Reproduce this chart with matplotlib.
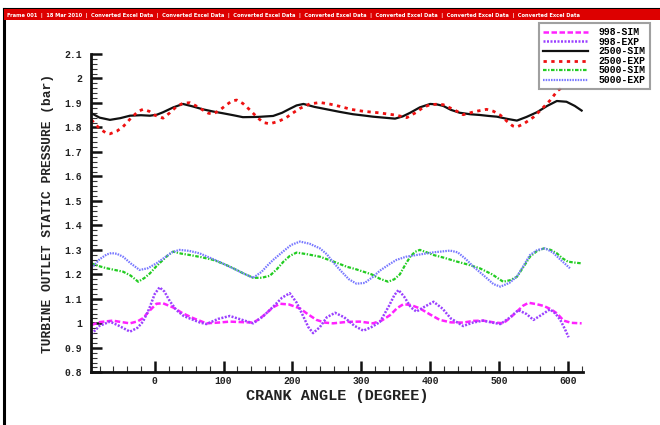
import matplotlib
matplotlib.use("Agg")
import matplotlib.pyplot as plt
from matplotlib.lines import Line2D
from matplotlib.patches import Rectangle
from matplotlib.ticker import MultipleLocator, FuncFormatter

# ---------------- data ----------------
sim998_x = [-92, -80, -61, -48, -36, -25, -17, -8, 2.5, 12, 26.6, 40, 56, 75, 92, 109, 126, 143,
            152, 162, 172, 182, 195, 211, 222, 235, 247, 259, 280, 298, 317, 330, 342, 352, 361,
            372, 385, 400, 414, 430, 448, 463, 477, 492, 506, 516, 526, 535, 543, 555, 565, 575,
            584, 594, 605, 620]
sim998_y = [0.993, 1.005, 1.011, 1.005, 1.000, 1.008, 1.021, 1.050, 1.080, 1.082, 1.065, 1.042,
            1.021, 1.000, 1.003, 1.007, 1.005, 1.003, 1.018, 1.041, 1.066, 1.080, 1.077, 1.061,
            1.038, 1.014, 1.003, 1.000, 1.006, 1.007, 1.000, 1.012, 1.034, 1.062, 1.078, 1.075,
            1.061, 1.036, 1.014, 1.004, 1.003, 1.010, 1.011, 1.004, 1.000, 1.022, 1.048, 1.072,
            1.084, 1.078, 1.071, 1.058, 1.041, 1.011, 1.002, 1.000]

exp998_x = [-92, -80, -65, -52, -36, -25, -17, -8, 0, 7, 14, 22, 31.5, 42, 56, 66, 75, 92, 109,
            126, 143, 158, 172, 185, 196, 206, 216, 223, 230, 240, 250, 262, 275, 290, 303, 315,
            327, 340, 348, 354, 362, 372, 380, 392, 405, 418, 430, 448, 462, 477, 490, 502, 515,
            528, 540, 550, 562, 574, 582, 589, 596, 601]
exp998_y = [0.956, 0.990, 1.007, 0.990, 0.966, 0.982, 1.007, 1.060, 1.120, 1.147, 1.130, 1.090,
            1.054, 1.030, 1.014, 1.003, 0.997, 1.018, 1.030, 1.015, 1.000, 1.030, 1.068, 1.105,
            1.123, 1.085, 1.027, 0.985, 0.960, 0.985, 1.025, 1.043, 1.025, 0.990, 0.970, 0.985,
            1.005, 1.070, 1.115, 1.136, 1.110, 1.065, 1.048, 1.068, 1.088, 1.060, 1.020, 0.989,
            1.003, 1.011, 1.003, 0.997, 1.022, 1.054, 1.038, 1.014, 1.035, 1.057, 1.040, 1.014,
            0.975, 0.943]

sim2500_x = [-92, -80, -65, -50, -36, -20, -7, 3, 12, 27, 41, 55, 70, 85, 99, 114, 128, 150,
             172, 185, 196, 206, 216, 232, 250, 268, 288, 303, 317, 333, 349, 360, 371, 385, 400,
             410, 419, 430, 443, 458, 472, 485, 497, 512, 526, 540, 555, 570, 584, 598, 610, 620]
sim2500_y = [1.858, 1.840, 1.831, 1.838, 1.848, 1.850, 1.848, 1.852, 1.862, 1.882, 1.896, 1.886,
             1.874, 1.865, 1.858, 1.850, 1.842, 1.843, 1.847, 1.860, 1.876, 1.890, 1.896, 1.884,
             1.874, 1.864, 1.854, 1.849, 1.844, 1.840, 1.836, 1.845, 1.860, 1.882, 1.896, 1.894,
             1.888, 1.872, 1.860, 1.854, 1.851, 1.847, 1.844, 1.835, 1.828, 1.843, 1.862, 1.888,
             1.908, 1.905, 1.888, 1.869]

exp2500_x = [-92, -80, -70, -65, -55, -46, -35, -24, -17, -8, 0, 12, 22, 31.5, 41, 51, 60, 70,
             78, 85, 95, 104, 112, 119, 128, 138, 150, 158, 167, 180, 191, 200, 211, 225, 240,
             255, 269, 285, 303, 325, 351, 366, 380, 390, 400, 410, 419, 435, 448, 465, 482, 492,
             502, 512, 520, 526, 536, 550, 562, 574, 585, 595]
exp2500_y = [1.831, 1.795, 1.776, 1.774, 1.785, 1.803, 1.837, 1.866, 1.874, 1.866, 1.850, 1.838,
             1.860, 1.885, 1.899, 1.901, 1.888, 1.871, 1.858, 1.855, 1.872, 1.892, 1.908, 1.912,
             1.898, 1.872, 1.838, 1.820, 1.815, 1.825, 1.840, 1.858, 1.878, 1.896, 1.902, 1.895,
             1.886, 1.874, 1.866, 1.860, 1.850, 1.840, 1.862, 1.882, 1.893, 1.895, 1.893, 1.872,
             1.852, 1.865, 1.874, 1.866, 1.850, 1.824, 1.806, 1.802, 1.815, 1.842, 1.875, 1.910,
             1.950, 1.970]

sim5000_x = [-92, -80, -70, -58, -46, -35, -24, -15, -7, 2, 12, 20, 26.6, 38, 51, 68, 85, 100,
             114, 128, 143, 155, 167, 177, 187, 196, 206, 222, 240, 260, 279, 291, 303, 315, 327,
             339, 348, 356, 363, 371, 378, 385, 395, 405, 420, 439, 455, 472, 490, 506, 516, 526,
             535, 545, 555, 565, 575, 584, 592, 600, 610, 620]
sim5000_y = [1.245, 1.233, 1.225, 1.218, 1.211, 1.195, 1.170, 1.185, 1.204, 1.232, 1.259, 1.280,
             1.293, 1.285, 1.279, 1.270, 1.259, 1.243, 1.225, 1.205, 1.186, 1.186, 1.194, 1.220,
             1.252, 1.275, 1.289, 1.282, 1.272, 1.252, 1.231, 1.222, 1.211, 1.200, 1.182, 1.170,
             1.180, 1.200, 1.235, 1.272, 1.292, 1.300, 1.290, 1.279, 1.268, 1.252, 1.240, 1.225,
             1.200, 1.170, 1.176, 1.190, 1.228, 1.272, 1.295, 1.306, 1.300, 1.286, 1.266, 1.252,
             1.248, 1.245]

exp5000_x = [-92, -80, -70, -63, -55, -46, -35, -22, -10, 2.5, 15, 25, 36, 50, 65, 85, 109, 128,
             143, 155, 165, 172, 185, 198, 211, 225, 240, 250, 259, 270, 282, 293, 305, 317, 327,
             340, 351, 365, 380, 405, 429, 440, 452, 463, 480, 492, 502, 515, 526, 535, 545, 556,
             567, 578, 590, 603]
exp5000_y = [1.225, 1.262, 1.281, 1.287, 1.284, 1.272, 1.245, 1.218, 1.225, 1.245, 1.270, 1.290,
             1.300, 1.296, 1.286, 1.262, 1.231, 1.205, 1.186, 1.210, 1.240, 1.259, 1.290, 1.320,
             1.334, 1.325, 1.306, 1.282, 1.250, 1.215, 1.180, 1.162, 1.165, 1.190, 1.215, 1.240,
             1.259, 1.272, 1.279, 1.290, 1.297, 1.290, 1.262, 1.231, 1.190, 1.160, 1.150, 1.165,
             1.191, 1.232, 1.279, 1.300, 1.306, 1.290, 1.258, 1.225]

labels = ["998-SIM", "998-EXP", "2500-SIM", "2500-EXP", "5000-SIM", "5000-EXP"]
xticks = [0, 100, 200, 300, 400, 500, 600]
yticks = [0.8, 0.9, 1.0, 1.1, 1.2, 1.3, 1.4, 1.5, 1.6, 1.7, 1.8, 1.9, 2.0, 2.1]

header = ("Frame 001  |  18 Mar 2010  |  " +
          "  |  ".join(["Converted Excel Data"] * 7))

# ---------------- figure ----------------
W, H = 660, 425
fig = plt.figure(figsize=(W / 100, H / 100), dpi=100)
mono = "Liberation Mono"

ax = fig.add_axes([90.7 / W, 1 - 372.3 / H, (583 - 90.7) / W, (372.3 - 54) / H])

styles = [
    dict(x=sim998_x, y=sim998_y, color="#ff22ff", ls=(0, (2.2, 1.0)), lw=1.8),
    dict(x=exp998_x, y=exp998_y, color="#9a40ff", ls=(0, (0.8, 0.6)), lw=1.8),
    dict(x=sim2500_x, y=sim2500_y, color="#111111", ls="-", lw=1.6),
    dict(x=exp2500_x, y=exp2500_y, color="#ee1111", ls=(0, (1.2, 1.6)), lw=2.0),
    dict(x=sim5000_x, y=sim5000_y, color="#22cc22", ls=(0, (1.6, 0.7, 0.6, 0.7)), lw=1.6),
    dict(x=exp5000_x, y=exp5000_y, color="#7878ff", ls=(0, (0.7, 0.5)), lw=1.6),
]
handles = []
for s, lab in zip(styles, labels):
    h, = ax.plot(s["x"], s["y"], color=s["color"], linestyle=s["ls"], lw=s["lw"], label=lab,
                 solid_joinstyle="round", dash_joinstyle="round")
    handles.append(h)

ax.set_xlim(-93, 622)
ax.set_ylim(0.8, 2.1)
for sp in ("top", "right"):
    ax.spines[sp].set_visible(False)
for sp in ("left", "bottom"):
    ax.spines[sp].set_linewidth(2.0)
    ax.spines[sp].set_color("#111111")

ax.set_xticks(xticks)
ax.set_yticks(yticks)
ax.xaxis.set_minor_locator(MultipleLocator(20))
ax.yaxis.set_minor_locator(MultipleLocator(0.02))
ax.yaxis.set_major_formatter(FuncFormatter(lambda v, p: f"{v:g}"))
ax.tick_params(which="major", direction="in", length=8, width=1.8, color="#111111",
               labelsize=7, pad=6)
ax.tick_params(which="minor", direction="in", length=4, width=0.8, color="#333333")
ax.tick_params(axis="x", which="major", pad=3)
for t in ax.get_xticklabels() + ax.get_yticklabels():
    t.set_fontfamily(mono)
    t.set_fontweight("bold")
    t.set_color("#222222")

ax.set_xlabel("CRANK ANGLE (DEGREE)", fontfamily=mono, fontweight="bold", fontsize=11,
              labelpad=2, color="#222222")
ax.set_ylabel("TURBINE OUTLET STATIC PRESSURE (bar)", fontfamily=mono, fontweight="bold",
              fontsize=9.3, labelpad=8, color="#222222")

leg = fig.legend(handles=handles, labels=labels, loc="upper right",
                 bbox_to_anchor=(650 / W, 1 - 23 / H), frameon=True, fancybox=False,
                 prop=dict(family=mono, weight="bold", size=7),
                 handlelength=4.6, handletextpad=1.1, labelspacing=-0.05,
                 borderpad=0.45, borderaxespad=0)
leg.get_frame().set_edgecolor("#888888")
leg.get_frame().set_linewidth(1.5)

# frame and header bar
fig.patches.append(Rectangle((4 / W, 1 - 20 / H), (W - 4) / W, 11 / H,
                             transform=fig.transFigure, facecolor="#dd0000",
                             edgecolor="none", zorder=5))
fig.lines.append(Line2D([4 / W, 4 / W], [0, 1 - 9 / H], transform=fig.transFigure,
                        color="black", lw=2.2))
fig.lines.append(Line2D([4 / W, 1], [1 - 9 / H, 1 - 9 / H], transform=fig.transFigure,
                        color="black", lw=1.5))
fig.text(7 / W, 1 - 15 / H, header, color="white", fontsize=3.73, fontweight="bold",
         va="center", ha="left", fontfamily="DejaVu Sans", zorder=6)

fig.savefig("out.png", dpi=100, facecolor="white")
